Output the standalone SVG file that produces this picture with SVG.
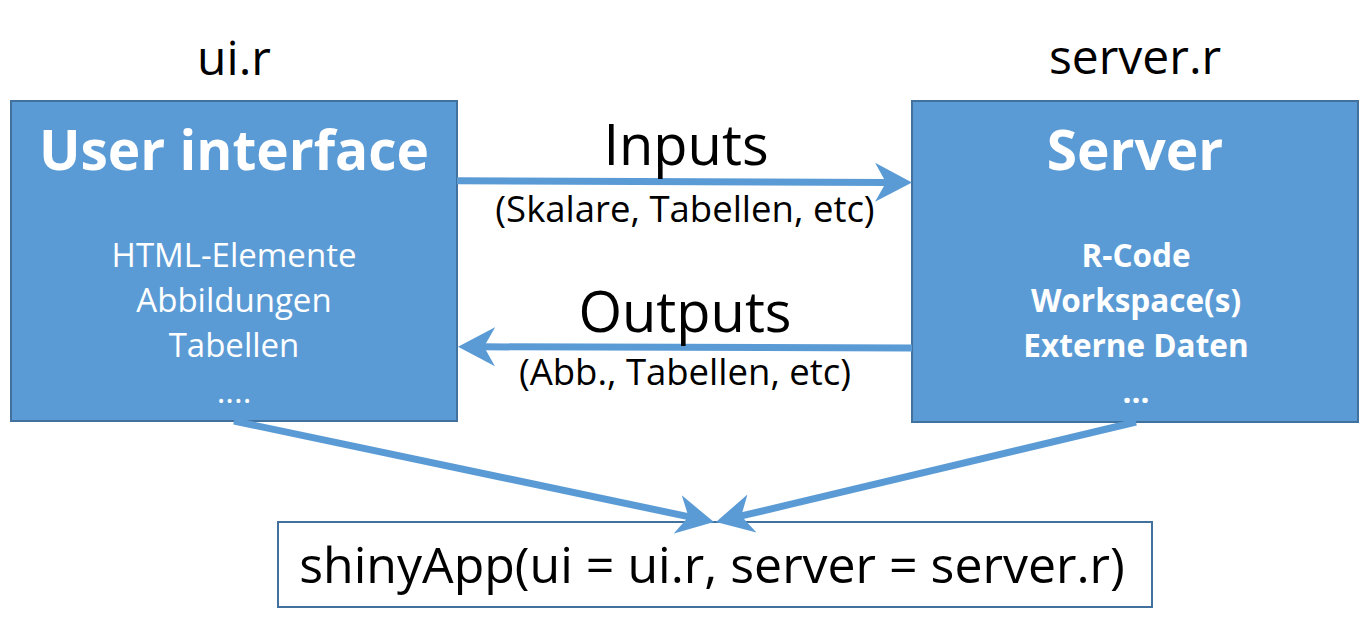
<svg xmlns="http://www.w3.org/2000/svg" width="1360" height="634" viewBox="0 0 1360 634">
  <style>
    .box { fill: #5B9BD5; stroke: #41719C; stroke-width: 2; }
    .call { fill: #FFFFFF; stroke: #41719C; stroke-width: 2; }
    .txt { font-family: "Open Sans", "Liberation Sans", sans-serif; text-anchor: middle; }
    .title { font-size: 48px; fill: #000000; }
    .head { font-size: 55px; font-weight: bold; fill: #FFFFFF; }
    .item { font-size: 33px; fill: #FFFFFF; }
    .itemb { font-size: 31.5px; font-weight: bold; fill: #FFFFFF; }
    .flow { font-size: 56px; fill: #000000; }
    .sub { font-size: 36.5px; fill: #000000; }
    .code { font-size: 50px; fill: #000000; }
    .conn { fill: none; stroke: #5B9BD5; stroke-width: 7; }
  </style>
  <defs>
    <!-- notched (stealth) arrowhead; line ends 25px short of the tip -->
    <marker id="head" markerUnits="userSpaceOnUse" viewBox="0 -21 40 42" markerWidth="40" markerHeight="42" refX="12" refY="0" orient="auto">
      <path d="M0,-19.5 L37,0 L0,19.5 L11,0 Z" fill="#5B9BD5"/>
    </marker>
  </defs>

  <rect width="1360" height="634" fill="#FFFFFF"/>

  <!-- file labels -->
  <text class="txt title" x="234" y="75">ui.r</text>
  <text class="txt title" x="1135" y="74">server.r</text>

  <!-- user interface node -->
  <g id="node-ui">
    <rect class="box" x="11" y="101" width="446" height="320"/>
    <text class="txt head" x="234" y="170">User interface</text>
    <text class="txt item" x="234" y="267">HTML-Elemente</text>
    <text class="txt item" x="234" y="312">Abbildungen</text>
    <text class="txt item" x="234" y="357">Tabellen</text>
    <text class="txt item" x="234" y="403">....</text>
  </g>

  <!-- server node -->
  <g id="node-server">
    <rect class="box" x="912" y="101" width="446" height="321"/>
    <text class="txt head" x="1135" y="170">Server</text>
    <text class="txt itemb" x="1136" y="267">R-Code</text>
    <text class="txt itemb" x="1136" y="312">Workspace(s)</text>
    <text class="txt itemb" x="1136" y="357">Externe Daten</text>
    <text class="txt itemb" x="1136" y="403">...</text>
  </g>

  <!-- app call node -->
  <g id="node-app">
    <rect class="call" x="278" y="522" width="874" height="85"/>
    <text class="txt code" x="712" y="583">shinyApp(ui = ui.r, server = server.r)</text>
  </g>

  <!-- connectors -->
  <g id="connectors">
    <path class="conn" d="M457,180.8 L887,182.4" marker-end="url(#head)"/>
    <path class="conn" d="M912,348 L483,346.8" marker-end="url(#head)"/>
    <path class="conn" d="M234,421 L689.5,516.9" marker-end="url(#head)"/>
    <path class="conn" d="M1136,422 L740.3,516.2" marker-end="url(#head)"/>
  </g>

  <!-- connector labels -->
  <text class="txt flow" x="686" y="165">Inputs</text>
  <text class="txt sub" x="685" y="222">(Skalare, Tabellen, etc)</text>
  <text class="txt flow" x="685" y="332">Outputs</text>
  <text class="txt sub" x="685" y="385">(Abb., Tabellen, etc)</text>
</svg>
